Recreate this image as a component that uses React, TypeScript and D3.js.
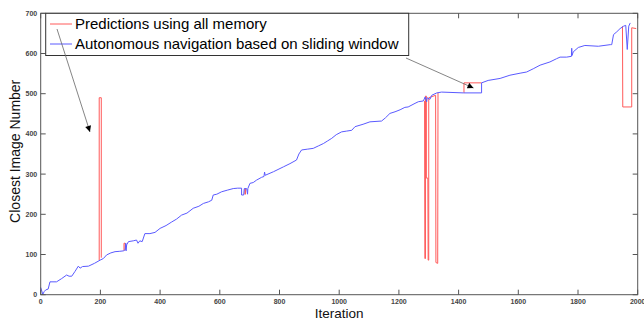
import React from 'react';
import * as d3 from 'd3';

const W = 644;
const H = 323;
const margin = { top: 13.3, left: 40.7, right: 6.3, bottom: 28.3 };
const innerW = W - margin.left - margin.right;
const innerH = H - margin.top - margin.bottom;

const xTicks = [0, 200, 400, 600, 800, 1000, 1200, 1400, 1600, 1800, 2000];
const yTicks = [0, 100, 200, 300, 400, 500, 600, 700];

// autonomous navigation (sliding window): [iteration, closest image]
const slidingWindow: [number, number][] = [
  [0, 18], [7, 1], [12, 8], [17, 12], [25, 14], [31, 32], [53, 32], [70, 40], [87, 49], [95, 46],
  [104, 46], [115, 58], [126, 71], [132, 66], [140, 70], [160, 71], [180, 78], [199, 86], [210, 90],
  [221, 99], [235, 104], [249, 107], [265, 108], [277, 109], [283, 112], [285, 128], [286, 109],
  [288, 124], [294, 132], [310, 134], [321, 136], [326, 128], [332, 134], [340, 132], [349, 152],
  [366, 152], [383, 155], [400, 165], [420, 172], [439, 181], [455, 188], [472, 198], [490, 203],
  [511, 215], [530, 220], [545, 227], [562, 231], [573, 235], [578, 248], [590, 250], [606, 256],
  [625, 260], [645, 264], [660, 265], [673, 265], [673, 248], [680, 248], [682, 264], [690, 264],
  [693, 250], [694, 264], [701, 277], [712, 279], [723, 285], [740, 292], [748, 294], [750, 305],
  [752, 297], [780, 306], [813, 318], [835, 326], [857, 335], [865, 350], [874, 360], [893, 362],
  [913, 364], [930, 370], [947, 376], [960, 382], [975, 389], [990, 398], [1008, 405], [1025, 407],
  [1042, 409], [1053, 418], [1080, 424], [1103, 430], [1142, 432], [1155, 440], [1170, 451],
  [1187, 455], [1204, 460], [1220, 466], [1231, 467], [1254, 476], [1265, 480], [1282, 482],
  [1288, 492], [1293, 480], [1295, 490], [1304, 486], [1310, 496], [1327, 502], [1343, 504],
  [1416, 502], [1477, 502], [1477, 527], [1499, 533], [1539, 538], [1572, 546], [1606, 551],
  [1628, 554], [1650, 562], [1673, 571], [1706, 579], [1728, 587], [1740, 591], [1762, 591],
  [1778, 593], [1779, 613], [1780, 595], [1784, 604], [1801, 615], [1823, 620], [1868, 618],
  [1908, 622], [1913, 622], [1919, 647], [1930, 654], [1941, 662], [1953, 668], [1960, 670],
  [1965, 610], [1970, 668], [1975, 676],
];

// predictions using all memory, where they leave the sliding-window curve
const allMemory: [number, number][][] = [
  [[196, 86], [196, 490], [203, 490], [203, 92]],
  [[279, 109], [279, 128], [283, 128], [283, 112]],
  [[684, 264], [684, 250], [686, 250], [686, 264]],
  [[1286, 482], [1287, 90], [1289, 90], [1289, 494], [1292, 494], [1292, 290], [1297, 290],
    [1298, 86], [1300, 86], [1300, 490], [1323, 496], [1324, 80], [1330, 78], [1331, 502]],
  [[1418, 502], [1418, 527], [1477, 527]],
  [[1949, 668], [1950, 467], [1980, 467], [1980, 664], [1995, 662]],
];

const legendLabels = ['Predictions using all memory', 'Autonomous navigation based on sliding window'];

const x = d3.scaleLinear().domain([0, 2000]).range([0, innerW]);
const y = d3.scaleLinear().domain([0, 700]).range([innerH, 0]);
const line = d3.line<[number, number]>().x((d) => x(d[0])).y((d) => y(d[1]));

const font = '"Liberation Sans", Arial, sans-serif';
const axisColor = '#555';

const App: React.FC = () => {
  // arrow tips in data space, tails hang off the legend box
  const arrows = [
    { x1: 16.3, y1: 15.7, x2: x(165), y2: y(405) },
    { x1: 365.3, y1: 44.7, x2: x(1450), y2: y(514) },
  ];
  return (
    <svg width={W} height={H} style={{ position: 'absolute', left: 0, top: 0, background: '#fff' }}>
      <defs>
        <marker id="head" viewBox="0 0 10 10" refX="10" refY="5" markerWidth="9" markerHeight="6" orient="auto" markerUnits="userSpaceOnUse">
          <path d="M0,0 L10,5 L0,10 z" fill="#000" />
        </marker>
      </defs>
      <g transform={`translate(${margin.left},${margin.top})`}>
        {allMemory.map((seg, i) => (
          <path key={i} d={line(seg)!} fill="none" stroke="#ff5a5a" strokeWidth={1} />
        ))}
        <path d={line(slidingWindow)!} fill="none" stroke="#5a5aff" strokeWidth={1} />

        <rect x={0} y={0} width={innerW} height={innerH} fill="none" stroke={axisColor} strokeWidth={1} />
        {xTicks.map((t) => (
          <g key={'x' + t} transform={`translate(${x(t)},0)`}>
            <line y1={innerH} y2={innerH - 5} stroke={axisColor} />
            <line y1={0} y2={5} stroke={axisColor} />
            <text y={innerH + 9} textAnchor="middle" fontSize={7} fontWeight="bold" fill="#444" fontFamily={font}>{t}</text>
          </g>
        ))}
        {yTicks.map((t) => (
          <g key={'y' + t} transform={`translate(0,${y(t)})`}>
            <line x1={0} x2={5} stroke={axisColor} />
            <line x1={innerW} x2={innerW - 5} stroke={axisColor} />
            <text x={-3.5} dy="0.35em" textAnchor="end" fontSize={7} fontWeight="bold" fill="#444" fontFamily={font}>{t}</text>
          </g>
        ))}
        <text x={innerW / 2} y={innerH + 23.5} textAnchor="middle" fontSize={13.5} fill="#111" fontFamily={font}>Iteration</text>
        <text transform={`translate(${-20.7},${138}) rotate(-90)`} textAnchor="middle" fontSize={14} fill="#111" fontFamily={font}>Closest Image Number</text>

        <g transform="translate(5,0)">
          <rect x={0} y={0} width={363} height={42.2} fill="#fff" stroke="#333" strokeWidth={1} />
          {legendLabels.map((l, i) => (
            <g key={l} transform={`translate(0,${10.7 + i * 20})`}>
              <line x1={4.3} x2={26.3} stroke={i === 0 ? '#ff5a5a' : '#5a5aff'} />
              <text x={29.3} dy="0.36em" fontSize={15} fill="#000" fontFamily={font}>{l}</text>
            </g>
          ))}
        </g>
        {arrows.map((a, i) => (
          <line key={i} x1={a.x1} y1={a.y1} x2={a.x2} y2={a.y2} stroke="#666" strokeWidth={0.8} markerEnd="url(#head)" />
        ))}
      </g>
    </svg>
  );
};

export default App;
